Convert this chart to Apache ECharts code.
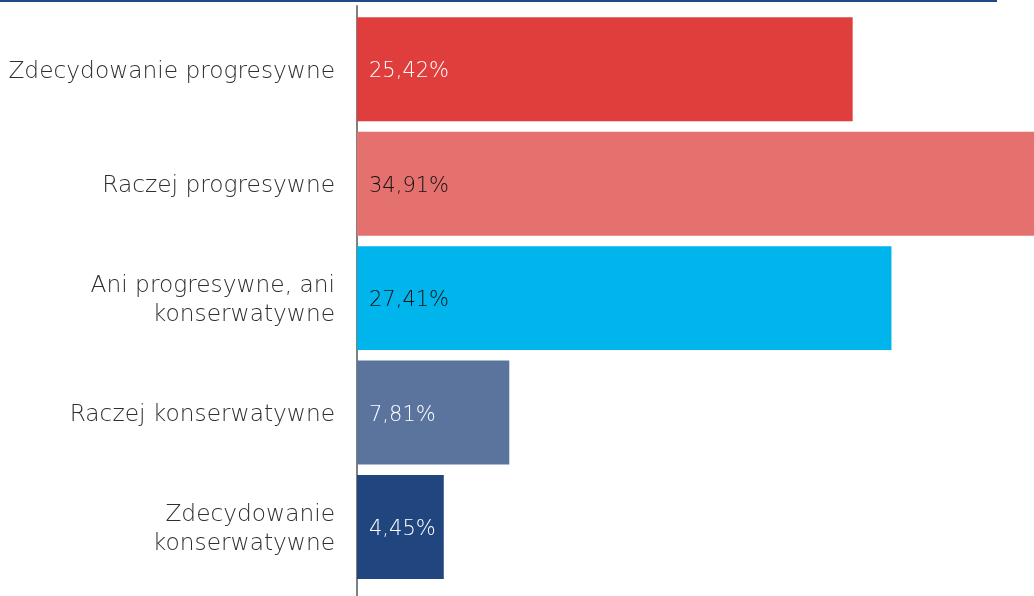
<!DOCTYPE html>
<html><head><meta charset="utf-8">
<script src="https://cdn.jsdelivr.net/npm/echarts@6/dist/echarts.min.js"></script>
<style>html,body{margin:0;padding:0;background:#fff}#c{width:1034px;height:596px}</style>
</head><body><div id="c"></div>
<script>
const categories = ["Zdecydowanie progresywne", "Raczej progresywne", "Ani progresywne, ani\nkonserwatywne", "Raczej konserwatywne", "Zdecydowanie\nkonserwatywne"];
const values = [25.42, 34.91, 27.41, 7.81, 4.45];
const barColors = ["#E03E3C", "#E5716E", "#00B5EC", "#5A749E", "#21457E"];
const labelColors = ["#ffffff", "#111111", "#111111", "#ffffff", "#ffffff"];

const chart = echarts.init(document.getElementById('c'), null, {renderer: 'canvas'});
const font = 'DejaVu Sans';
chart.setOption({
  animation: false,
  graphic: [{type: 'rect', shape: {x: 0, y: 0, width: 997, height: 2}, style: {fill: '#1F4A86'}}],
  grid: [
    {left: 357, right: 0, top: 12, bottom: 11.75, containLabel: false},
    {left: 357, right: 0, top: 6, bottom: 0, containLabel: false}
  ],
  xAxis: [
    {gridIndex: 0, type: 'value', min: 0, max: 34.72, show: false},
    {gridIndex: 1, type: 'value', min: 0, max: 1, show: false}
  ],
  yAxis: [
    {gridIndex: 0, type: 'category', data: categories, inverse: true,
     axisLine: {show: false}, axisTick: {show: false},
     axisLabel: {margin: 22, align: 'right',
       formatter: v => v.split('\n').map(s => '{a|' + s + '}').join('\n'),
       rich: {a: {fontFamily: font, fontWeight: 200, fontSize: 23.3, color: '#2e2e2e', lineHeight: 29, padding: [5, 0, 0, 0], align: 'right'}}}},
    {gridIndex: 1, type: 'value', min: 0, max: 1, axisLabel: {show: false}, splitLine: {show: false}, axisTick: {show: false},
     axisLine: {show: true, lineStyle: {color: '#808080', width: 2}}}
  ],
  series: [{
    type: 'bar', xAxisIndex: 0, yAxisIndex: 0,
    barCategoryGap: '9.2%',
    data: values.map((v, i) => ({value: v, itemStyle: {color: barColors[i]},
      label: {color: labelColors[i]}})),
    label: {show: true, position: 'insideLeft', distance: 12, offset: [0, 2.5], fontFamily: font, fontWeight: 200, fontSize: 21,
      formatter: p => p.value.toFixed(2).replace('.', ',') + '%'}
  }]
});
</script></body></html>
